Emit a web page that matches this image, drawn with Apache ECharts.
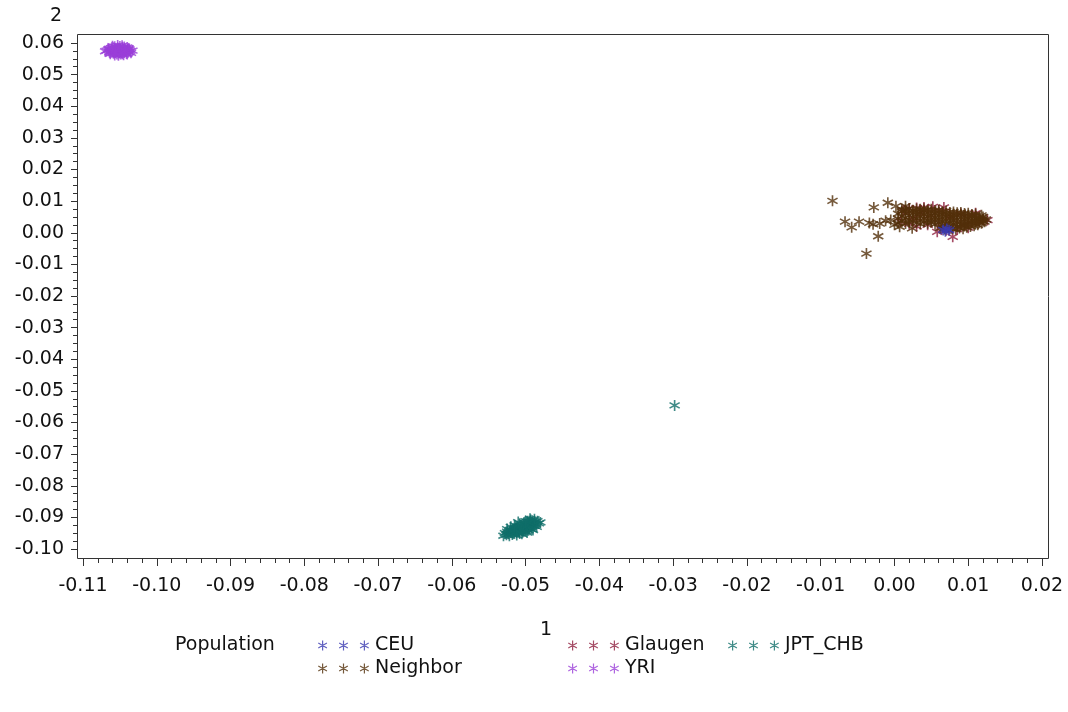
<!DOCTYPE html>
<html>
<head>
<meta charset="utf-8">
<script src="https://cdn.jsdelivr.net/npm/echarts@6/dist/echarts.min.js"></script>
<style>html,body{margin:0;padding:0;background:#fff}#c{width:1068px;height:712px}</style>
</head>
<body>
<div id="c"></div>
<script>
// ---- data ----
const seriesNames = ['CEU', 'Glaugen', 'JPT_CHB', 'Neighbor', 'YRI'];
const xTickMin = -0.11, xTickMax = 0.02, yTickMin = -0.10, yTickMax = 0.06, tickStep = 0.01;

const yri = [[-0.1068,0.0576],[-0.1065,0.0581],[-0.1064,0.0571],[-0.1061,0.0585],[-0.1060,0.0577],[-0.1059,0.0568],[-0.1057,0.0588],[-0.1056,0.0580],[-0.1055,0.0573],[-0.1054,0.0565],[-0.1053,0.0584],[-0.1052,0.0577],[-0.1051,0.0569],[-0.1050,0.0589],[-0.1049,0.0581],[-0.1048,0.0574],[-0.1047,0.0566],[-0.1046,0.0585],[-0.1045,0.0578],[-0.1044,0.0570],[-0.1043,0.0582],[-0.1042,0.0575],[-0.1041,0.0567],[-0.1040,0.0586],[-0.1039,0.0579],[-0.1038,0.0572],[-0.1037,0.0580],[-0.1036,0.0575],[-0.1035,0.0569],[-0.1066,0.0579],[-0.1062,0.0574],[-0.1058,0.0583],[-0.1058,0.0573],[-0.1054,0.0578],[-0.1050,0.0572],[-0.1049,0.0565],[-0.1046,0.0580],[-0.1044,0.0587],[-0.1041,0.0577],[-0.1038,0.0583],[-0.1063,0.0566],[-0.1057,0.0562],[-0.1052,0.0561],[-0.1045,0.0563],[-0.1040,0.0565],[-0.1060,0.0590],[-0.1053,0.0592],[-0.1047,0.0591],[-0.1070,0.0574],[-0.1033,0.0576],[-0.1055,0.0576],[-0.1051,0.0583],[-0.1048,0.0570],[-0.1043,0.0576],[-0.1061,0.0579],[-0.1056,0.0569]];

const jptChb = [[-0.0528,-0.0950],[-0.0525,-0.0945],[-0.0523,-0.0952],[-0.0521,-0.0940],[-0.0520,-0.0947],[-0.0518,-0.0954],[-0.0517,-0.0937],[-0.0516,-0.0944],[-0.0515,-0.0950],[-0.0514,-0.0933],[-0.0513,-0.0941],[-0.0512,-0.0948],[-0.0511,-0.0929],[-0.0510,-0.0937],[-0.0509,-0.0944],[-0.0508,-0.0951],[-0.0507,-0.0926],[-0.0506,-0.0933],[-0.0505,-0.0940],[-0.0504,-0.0947],[-0.0503,-0.0922],[-0.0502,-0.0930],[-0.0501,-0.0937],[-0.0500,-0.0944],[-0.0499,-0.0919],[-0.0498,-0.0927],[-0.0497,-0.0934],[-0.0496,-0.0941],[-0.0495,-0.0915],[-0.0494,-0.0923],[-0.0493,-0.0930],[-0.0492,-0.0937],[-0.0491,-0.0911],[-0.0490,-0.0920],[-0.0489,-0.0927],[-0.0488,-0.0915],[-0.0486,-0.0922],[-0.0484,-0.0912],[-0.0482,-0.0919],[-0.0480,-0.0916],[-0.0526,-0.0955],[-0.0519,-0.0943],[-0.0512,-0.0935],[-0.0506,-0.0928],[-0.0500,-0.0922],[-0.0495,-0.0933],[-0.0509,-0.0948],[-0.0503,-0.0943],[-0.0515,-0.0939],[-0.0497,-0.0912],[-0.0502,-0.0916],[-0.0493,-0.0908],[-0.0530,-0.0958],
 [-0.0520,-0.0930],[-0.0515,-0.0925],[-0.0508,-0.0920],[-0.0500,-0.0912],[-0.0522,-0.0958],[-0.0512,-0.0956],[-0.0505,-0.0952],[-0.0498,-0.0948],[-0.0490,-0.0940],[-0.0485,-0.0930],[-0.0494,-0.0904],[-0.0488,-0.0906],[-0.0525,-0.0937],[-0.0510,-0.0915],
 [-0.0298,-0.0546]];

const neighbor = [
 [0.0005,0.0045],[0.0005,0.0060],[0.0005,0.0030],
 [0.0010,0.0052],[0.0010,0.0038],[0.0010,0.0068],
 [0.0015,0.0047],[0.0015,0.0061],[0.0015,0.0029],[0.0015,0.0072],
 [0.0020,0.0055],[0.0020,0.0041],[0.0020,0.0066],[0.0020,0.0033],
 [0.0025,0.0050],[0.0025,0.0063],[0.0025,0.0037],[0.0025,0.0071],
 [0.0030,0.0057],[0.0030,0.0044],[0.0030,0.0067],[0.0030,0.0031],
 [0.0035,0.0053],[0.0035,0.0040],[0.0035,0.0064],[0.0035,0.0074],[0.0035,0.0028],
 [0.0040,0.0058],[0.0040,0.0046],[0.0040,0.0035],[0.0040,0.0069],
 [0.0045,0.0051],[0.0045,0.0062],[0.0045,0.0039],[0.0045,0.0030],[0.0045,0.0072],
 [0.0050,0.0055],[0.0050,0.0043],[0.0050,0.0066],[0.0050,0.0034],
 [0.0055,0.0049],[0.0055,0.0060],[0.0055,0.0038],[0.0055,0.0070],[0.0055,0.0027],
 [0.0060,0.0053],[0.0060,0.0042],[0.0060,0.0064],[0.0060,0.0032],
 [0.0065,0.0047],[0.0065,0.0058],[0.0065,0.0036],[0.0065,0.0025],[0.0065,0.0066],
 [0.0070,0.0051],[0.0070,0.0040],[0.0070,0.0061],[0.0070,0.0030],
 [0.0075,0.0045],[0.0075,0.0056],[0.0075,0.0034],[0.0075,0.0064],[0.0075,0.0022],
 [0.0080,0.0049],[0.0080,0.0038],[0.0080,0.0059],[0.0080,0.0028],
 [0.0085,0.0043],[0.0085,0.0054],[0.0085,0.0032],[0.0085,0.0063],[0.0085,0.0020],
 [0.0090,0.0047],[0.0090,0.0036],[0.0090,0.0057],[0.0090,0.0026],
 [0.0095,0.0041],[0.0095,0.0052],[0.0095,0.0030],[0.0095,0.0061],[0.0095,0.0021],
 [0.0100,0.0045],[0.0100,0.0035],[0.0100,0.0055],[0.0100,0.0027],
 [0.0105,0.0040],[0.0105,0.0050],[0.0105,0.0031],[0.0105,0.0058],
 [0.0110,0.0044],[0.0110,0.0036],[0.0110,0.0053],[0.0110,0.0028],
 [0.0115,0.0041],[0.0115,0.0048],[0.0115,0.0033],
 [0.0120,0.0043],[0.0120,0.0037],[0.0120,0.0050],[0.0124,0.0042],
 [0.0062,0.0015],[0.0068,0.0012],[0.0073,0.0016],[0.0078,0.0013],[0.0083,0.0011],[0.0088,0.0015],
 [0.0093,0.0013],[0.0098,0.0017],[0.0103,0.0020],[0.0108,0.0022],[0.0113,0.0025],[0.0118,0.0030],[0.0122,0.0035],
 [0.0010,0.0074],[0.0020,0.0076],[0.0030,0.0075],[0.0040,0.0076],[0.0050,0.0074],[0.0060,0.0072],
 [0.0070,0.0069],[0.0080,0.0066],[0.0090,0.0064],[0.0100,0.0062],[0.0110,0.0059],[0.0118,0.0055],
 [-0.0084,0.0101],[-0.0028,0.0080],[-0.0009,0.0095],[0.0002,0.0084],[0.0015,0.0084],
 [-0.0067,0.0035],[-0.0058,0.0017],[-0.0048,0.0035],[-0.0034,0.0031],[-0.0029,0.0027],
 [-0.0020,0.0029],[-0.0012,0.0038],[-0.0022,-0.0011],[-0.0038,-0.0066],[0.0007,0.0019],
 [0.0024,0.0014],[-0.0005,0.0040],[0.0000,0.0025]];

const glaugen = [[0.0012,0.0070],[0.0020,0.0077],[0.0030,0.0078],[0.0040,0.0080],[0.0052,0.0082],[0.0067,0.0080],[0.0058,0.0003],[0.0079,-0.0013],[0.0115,0.0035],[0.0126,0.0040],[0.0070,0.0008],[0.0085,0.0012],[0.0100,0.0016],[0.0045,0.0025],[0.0035,0.0060],[0.0060,0.0070],[0.0025,0.0045],[0.0050,0.0055],[0.0075,0.0050],[0.0090,0.0060],[0.0105,0.0055],[0.0008,0.0035],[0.0065,0.0018],[0.0040,0.0070],[0.0020,0.0028],[0.0095,0.0025],[0.0110,0.0062],[0.0030,0.0020]];

const ceu = [[0.0066,0.0009],[0.0071,0.0012],[0.0069,0.0005],[0.0074,0.0008]];

// ---- styling ----
const colors = {CEU:'#3a3ab0', Glaugen:'#8e1f3e', JPT_CHB:'#0f6e69', Neighbor:'#52300a', YRI:'#9a3ed8'};
const FONT = 'DejaVu Sans';
const FS = 19;

function star(dx, w) {
  const p = [[-w,-5],[w,-5],[w,5],[-w,5]];
  const c = 0.5, s = 0.866;
  const rot = (pt, sg) => [pt[0]*c - sg*pt[1]*s, sg*pt[0]*s + pt[1]*c];
  const q = p.map(pt => rot(pt, 1));
  const r = p.map(pt => rot(pt, -1));
  return [p,q,r].map(poly => 'M' + poly.map(pt => (pt[0]+dx).toFixed(2) + ' ' + pt[1].toFixed(2)).join(' L') + ' Z').join(' ');
}
const starSymbol = 'path://' + star(0, 0.7);
const legendIcon = 'path://' + star(-21, 0.6) + ' ' + star(0, 0.6) + ' ' + star(21, 0.6);

const dataByName = {CEU: ceu, Glaugen: glaugen, JPT_CHB: jptChb, Neighbor: neighbor, YRI: yri};
const drawOrder = ['Glaugen', 'Neighbor', 'CEU', 'JPT_CHB', 'YRI'];

const series = drawOrder.map(n => ({
  name: n, type: 'scatter', data: dataByName[n], symbol: starSymbol, symbolSize: 11,
  clip: false, itemStyle: {color: colors[n]}, emphasis: {disabled: true}, animation: false
}));

const legendPos = {
  CEU: [318, 636], Glaugen: [568, 636], JPT_CHB: [728, 636],
  Neighbor: [318, 659], YRI: [568, 659]
};
const legends = seriesNames.map(n => ({
  data: [n], left: legendPos[n][0], top: legendPos[n][1], padding: 0,
  icon: legendIcon, itemWidth: 51, itemHeight: 10, selectedMode: false,
  textStyle: {fontFamily: FONT, fontSize: FS, color: '#111', padding: [0,0,0,1]}
}));

const fmt = v => v.toFixed(2);

const option = {
  animation: false,
  backgroundColor: '#fff',
  grid: {left: 83, right: 26, top: 43, bottom: 163, containLabel: false},
  xAxis: {
    type: 'value', min: xTickMin, max: xTickMax, interval: tickStep, offset: 9,
    axisLine: {show: false, onZero: false},
    axisTick: {show: true, length: 8, lineStyle: {color: '#333'}},
    minorTick: {show: true, splitNumber: 5, length: 5, lineStyle: {color: '#333'}},
    splitLine: {show: false},
    axisLabel: {formatter: fmt, fontFamily: FONT, fontSize: FS, color: '#111', margin: 19}
  },
  yAxis: {
    type: 'value', min: yTickMin, max: yTickMax, interval: tickStep, offset: 6,
    axisLine: {show: false, onZero: false},
    axisTick: {show: true, length: 6, lineStyle: {color: '#333'}},
    minorTick: {show: true, splitNumber: 4, length: 4, lineStyle: {color: '#333'}},
    splitLine: {show: false},
    axisLabel: {formatter: fmt, fontFamily: FONT, fontSize: FS, color: '#111', margin: 13}
  },
  legend: legends,
  graphic: [
    {type: 'rect', silent: true, z: 10, shape: {x: 77.5, y: 34.5, width: 971, height: 524},
     style: {fill: null, stroke: '#333', lineWidth: 1}},
    {type: 'text', left: 50, top: 7, style: {text: '2', fontFamily: FONT, fontSize: FS, fill: '#111'}},
    {type: 'text', left: 540, top: 621, style: {text: '1', fontFamily: FONT, fontSize: FS, fill: '#111'}},
    {type: 'text', left: 175, top: 636, style: {text: 'Population', fontFamily: FONT, fontSize: FS, fill: '#111'}}
  ],
  series: series
};

const chart = echarts.init(document.getElementById('c'), null, {renderer: 'canvas'});
chart.setOption(option);
</script>
</body>
</html>
